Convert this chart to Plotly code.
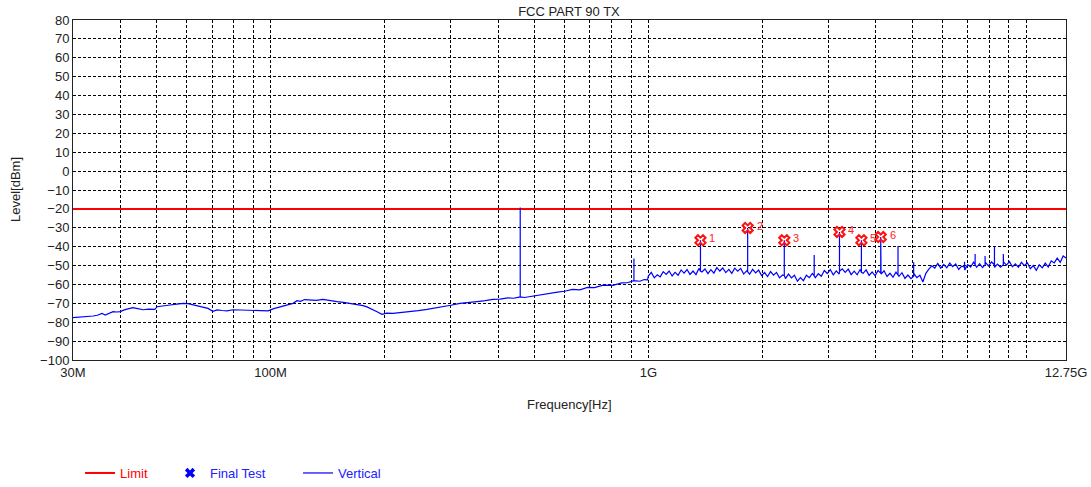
import math
import plotly.graph_objects as go

# ---- Measurement data -------------------------------------------------------
# Limit line (dBm) across the whole sweep
limit_freq_mhz = [30, 12750]
limit_level = [-20, -20]

# Noise floor of the vertical-polarisation sweep (MHz, dBm)
floor_freq_mhz = [
    30, 31, 32, 33, 33.9, 34.8, 35.8, 36.5, 37.3, 38.3, 39.2, 40.0, 41.0, 42.1,
    43.2, 44.5, 46.0, 47.5, 49.4, 50.1, 52.0, 54.2, 56.5, 58.7, 60.5, 62.3, 64.2,
    66.3, 68.3, 70.4, 72.2, 74.5, 76.7, 79.5, 83.0, 86.4, 89.9, 94.0, 98.5, 102,
    105.9, 110, 114.7, 117.5, 120, 123, 127.2, 132, 137.6, 143, 149.9, 156, 162.3,
    168, 175.7, 180, 186.7, 192, 197.2, 203, 210.9, 222, 233.9, 246, 259.5, 272,
    286.1, 300, 317.4, 334, 352, 370, 387.9, 405, 425, 440, 452, 470, 495, 520,
    549, 575, 600, 630, 659, 690, 720, 760, 806, 850, 880, 910, 950, 975, 995,
    1000, 1018, 1037, 1056, 1075, 1095, 1115, 1135, 1156, 1177, 1199, 1221, 1243,
    1266, 1289, 1313, 1337, 1361, 1386, 1412, 1438, 1464, 1491, 1518, 1546, 1574,
    1603, 1633, 1663, 1693, 1724, 1756, 1788, 1821, 1854, 1888, 1923, 1958, 1994,
    2031, 2068, 2106, 2145, 2184, 2224, 2265, 2307, 2349, 2392, 2436, 2481, 2527,
    2573, 2620, 2668, 2717, 2767, 2818, 2870, 2923, 2976, 3031, 3087, 3143, 3201,
    3260, 3320, 3381, 3443, 3506, 3570, 3636, 3703, 3771, 3840, 3911, 3983, 4056,
    4130, 4206, 4283, 4362, 4442, 4524, 4607, 4691, 4778, 4865, 4955, 5046, 5138,
    5233, 5329, 5427, 5526, 5628, 5731, 5836, 5943, 6053, 6164, 6277, 6392, 6510,
    6629, 6751, 6875, 7001, 7129, 7260, 7394, 7529, 7667, 7808, 7952, 8098, 8246,
    8398, 8552, 8709, 8869, 9032, 9198, 9367, 9539, 9714, 9892, 10074, 10259,
    10448, 10640, 10835, 11034, 11237, 11443, 11654, 11868, 12086, 12308, 12534,
    12750,
]
floor_level = [
    -77.6, -77.4, -77.3, -77.0, -76.7, -76.3, -75.3, -76.2, -75.3, -74.4, -74.6,
    -74.4, -73.5, -73.0, -72.3, -72.8, -73.4, -73.1, -73.2, -71.8, -71.5, -70.9,
    -70.4, -70.0, -70.2, -70.9, -71.6, -72.3, -72.7, -74.2, -73.5, -73.8, -74.0,
    -73.4, -73.5, -73.9, -73.6, -73.8, -74.0, -72.8, -71.8, -70.8, -70.0, -68.6,
    -68.9, -68.0, -68.2, -68.4, -67.9, -68.6, -69.1, -69.5, -70.0, -70.8, -71.2,
    -71.9, -73.2, -74.6, -75.8, -75.2, -75.3, -74.9, -74.4, -73.9, -73.2, -72.6,
    -71.8, -71.0, -70.0, -69.7, -69.1, -68.6, -67.9, -67.8, -67.1, -67.3, -66.8,
    -66.9, -66.1, -65.4, -64.9, -64.1, -63.6, -62.6, -62.9, -61.6, -61.7, -60.4,
    -60.5, -59.2, -59.1, -58.2, -58.3, -57.4, -57.6,
    -55.6, -53.6, -56.5, -54.9, -56.0, -53.2, -54.7, -52.9, -55.5, -53.6, -55.1,
    -52.3, -54.0, -52.1, -54.7, -52.9, -54.8, -51.5, -53.4, -51.8, -54.3, -52.2,
    -54.0, -51.1, -52.9, -51.3, -53.7, -52.0, -54.1, -51.4, -53.0, -51.5, -54.5,
    -52.8, -54.6, -52.0, -53.9, -52.4, -55.3, -53.7, -55.8, -53.2, -55.1, -53.6,
    -56.5, -55.0, -56.9, -54.5, -56.5, -55.1, -58.3, -56.4, -58.0, -55.1, -56.4,
    -54.2, -56.4, -54.3, -55.7, -52.6, -54.2, -52.1, -54.9, -52.8, -54.5, -51.7,
    -53.6, -51.9, -54.8, -53.0, -54.9, -52.1, -54.1, -52.3, -55.2, -53.4, -55.4,
    -52.6, -54.5, -52.8, -55.8, -54.1, -56.2, -53.5, -55.7, -53.8, -56.8, -55.0,
    -56.9, -54.3, -56.4, -55.1, -58.7, -54.1, -51.9, -50.1, -51.3, -48.9, -51.4,
    -49.4, -51.2, -48.7, -50.6, -49.1, -52.1, -50.3, -52.4, -49.5, -50.8, -48.2,
    -50.9, -49.0, -51.1, -48.4, -50.2, -48.1, -51.0, -49.2, -50.9, -48.0, -49.8,
    -47.9, -50.7, -49.1, -50.9, -48.3, -50.1, -48.5, -51.7, -50.0, -52.5, -49.6,
    -51.2, -48.7, -50.8, -47.5, -48.6, -46.1, -48.3, -44.9, -46.0,
]

# Discrete emissions on the sweep: frequency (MHz), floor under it, peak (dBm)
spike_freq_mhz = [458, 916, 1374, 1832, 2290, 2748, 3206, 3664, 4122, 4580,
                  5038, 6870, 7328, 7786, 8244, 8702]
spike_floor = [-66.6, -58.0, -53.0, -53.3, -55.3, -55.5, -53.0, -53.6, -54.0,
               -55.0, -55.6, -50.8, -49.6, -49.6, -49.6, -49.6]
spike_peak = [-19.2, -46.2, -36.6, -30.1, -36.6, -44.4, -32.2, -36.6, -34.9,
              -39.6, -48.3, -48.0, -43.9, -45.0, -40.0, -43.9]

# Final test points (MHz, dBm) with their labels
final_freq_mhz = [1374, 1832, 2290, 3206, 3664, 4122]
final_level = [-36.6, -30.1, -36.6, -32.2, -36.6, -34.9]
final_labels = ["1", "2", "3", "4", "5", "6"]

# Axis labelling
x_tick_mhz = [30, 100, 1000, 12750]
x_tick_text = ["30M", "100M", "1G", "12.75G"]
x_grid_mhz = [40, 50, 60, 70, 80, 90, 200, 300, 400, 500, 600, 700, 800, 900,
              2000, 3000, 4000, 5000, 6000, 7000, 8000, 9000, 10000]

# ---- Build the sweep trace (floor plus vertical emission lines) -------------
points = list(zip(floor_freq_mhz, floor_level))
for f, lo, hi in zip(spike_freq_mhz, spike_floor, spike_peak):
    points += [(f, lo), (f, hi), (f, lo)]
points.sort(key=lambda p: p[0])
sweep_x = [p[0] * 1e6 for p in points]
sweep_y = [p[1] for p in points]

FONT = "Arial, Liberation Sans, sans-serif"
fig = go.Figure()

fig.add_trace(go.Scatter(
    x=[f * 1e6 for f in limit_freq_mhz], y=limit_level, mode="lines",
    name="Limit", line=dict(color="#ff0000", width=2), legend="legend",
))
fig.add_trace(go.Scatter(
    x=sweep_x, y=sweep_y, mode="lines", name="Vertical",
    line=dict(color="#0000ff", width=1.2), legend="legend3",
))
fig.add_trace(go.Scatter(
    x=[f * 1e6 for f in final_freq_mhz], y=final_level, mode="markers",
    marker=dict(symbol="x-open", size=9, color="#ff1010",
                line=dict(color="#ff1010", width=2)),
    showlegend=False,
))
# legend entry for the final test points
fig.add_trace(go.Scatter(
    x=[None], y=[None], mode="markers", name="Final Test",
    marker=dict(symbol="x", size=9, color="#0000ff"), legend="legend2",
))

# numbered labels beside the final test points (log axis -> log10 position)
label_annotations = [
    dict(x=math.log10(f * 1e6), y=lvl, xref="x", yref="y", text=lab,
         showarrow=False, xanchor="left", yanchor="middle", xshift=7, yshift=2,
         font=dict(family=FONT, size=11, color="#ff2020"))
    for f, lvl, lab in zip(final_freq_mhz, final_level, final_labels)
]

axis_common = dict(
    showline=True, linecolor="#222222", linewidth=1, mirror=True,
    gridcolor="#000000", griddash="3px,2px", gridwidth=1,
    ticks="", zeroline=False, automargin=False,
    tickfont=dict(family=FONT, size=13, color="#222222"),
)

fig.update_xaxes(
    type="log",
    range=[7.4771213, 10.1055102],
    tickmode="array",
    tickvals=[f * 1e6 for f in x_tick_mhz],
    ticktext=x_tick_text,
    minor=dict(tickmode="array", tickvals=[f * 1e6 for f in x_grid_mhz],
               showgrid=True, gridcolor="#000000", griddash="3px,2px",
               gridwidth=1, ticks=""),
    **axis_common,
)
fig.update_yaxes(
    range=[-100, 80], tickmode="linear", tick0=-100, dtick=10,
    **axis_common,
)

legend_common = dict(
    orientation="h", yanchor="middle", y=-0.3324, xanchor="left",
    bgcolor="rgba(0,0,0,0)", borderwidth=0,
)
fig.update_layout(
    width=1091, height=487,
    margin=dict(l=73, r=25, t=20, b=127, autoexpand=False),
    plot_bgcolor="white", paper_bgcolor="white",
    font=dict(family=FONT, size=13, color="#222222"),
    title=dict(text="FCC PART 90 TX", x=0.5215, xanchor="center",
               yref="container", y=0.977, yanchor="middle",
               font=dict(family=FONT, size=13, color="#222222")),
    legend=dict(x=0.0071, font=dict(family=FONT, size=13, color="#ff0000"),
                **legend_common),
    legend2=dict(x=0.0977, font=dict(family=FONT, size=13, color="#2020ff"),
                 **legend_common),
    legend3=dict(x=0.2266, font=dict(family=FONT, size=13, color="#2020ff"),
                 **legend_common),
    annotations=[
        dict(text="Level[dBm]", textangle=-90, xref="paper", yref="paper",
             x=-0.0584, y=0.5, xanchor="center", yanchor="middle",
             showarrow=False, font=dict(family=FONT, size=13, color="#222222")),
        dict(text="Frequency[Hz]", xref="paper", yref="paper",
             x=0.5, y=-0.132, xanchor="center", yanchor="middle",
             showarrow=False, font=dict(family=FONT, size=13, color="#222222")),
    ] + label_annotations,
)

fig.write_html("out.html")
